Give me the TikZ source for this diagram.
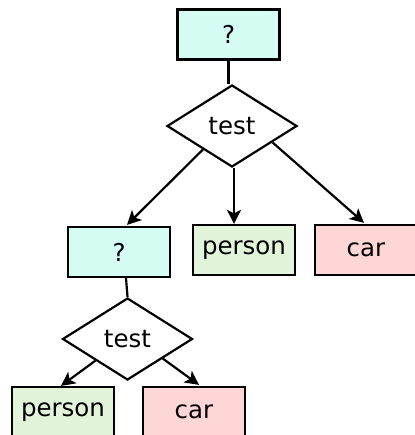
\documentclass[tikz,border=0pt]{standalone}
\usepackage{fontspec}
\setmainfont{DejaVu Sans}
\usetikzlibrary{shapes.geometric,arrows.meta,calc}
\definecolor{askfill}{HTML}{D5FDF4}
\definecolor{personfill}{HTML}{E2F4D9}
\definecolor{carfill}{HTML}{FFD6D6}
\tikzset{
  box/.style={rectangle, draw, line width=2.2pt, minimum width=102pt,
    minimum height=50pt, inner sep=0pt, font=\fontsize{24.5}{28}\selectfont},
  ask/.style={box, fill=askfill},
  personbox/.style={box, fill=personfill},
  carbox/.style={box, fill=carfill},
  testbox/.style={diamond, draw, line width=2.2pt, minimum width=130pt,
    minimum height=82pt, inner sep=0pt, fill=white,
    font=\fontsize{24.5}{28}\selectfont},
  link/.style={line width=2.2pt},
  arrow/.style={link, -{Stealth[length=14pt,width=14pt,inset=3.5pt]}}
}
\begin{document}
\begin{tikzpicture}[x=1pt,y=-1pt]
  \useasboundingbox[fill=white] (0,0) rectangle (414,435);

  % first question and its test
  \node[ask] (q1) at (228.5,34.5) {?};
  \node[testbox] (d1) at (232,126) {test};

  % outcomes of the first test
  \node[ask] (q2) at (119,252) {?};
  \node[personbox] (p1) at (244,250) {person};
  \node[carbox] (c1) at (366,250) {car};

  % second test
  \node[testbox] (d2) at (127.5,339) {test};
  \node[personbox] (p2) at (63,412) {person};
  \node[carbox] (c2) at (194,412) {car};

  % connectors
  \draw[link] (q1.south) -- (q1.south |- d1.north);
  \draw[arrow] (d1.-141) -- ($(q2.north)+(8,-1)$);
  \draw[arrow] (d1.south) ++(2,0) coordinate (d1s) -- (d1s |- p1.north);
  \draw[arrow] (d1.-22) -- ($(c1.north)+(-2,-1)$);

  \draw[link] ($(q2.south)+(7,0)$) -- (d2.north);
  \draw[arrow] (d2.-146) -- ($(p2.north)+(-2,0)$);
  \draw[arrow] (d2.-29) -- ($(c2.north)+(5,-1)$);
\end{tikzpicture}
\end{document}
